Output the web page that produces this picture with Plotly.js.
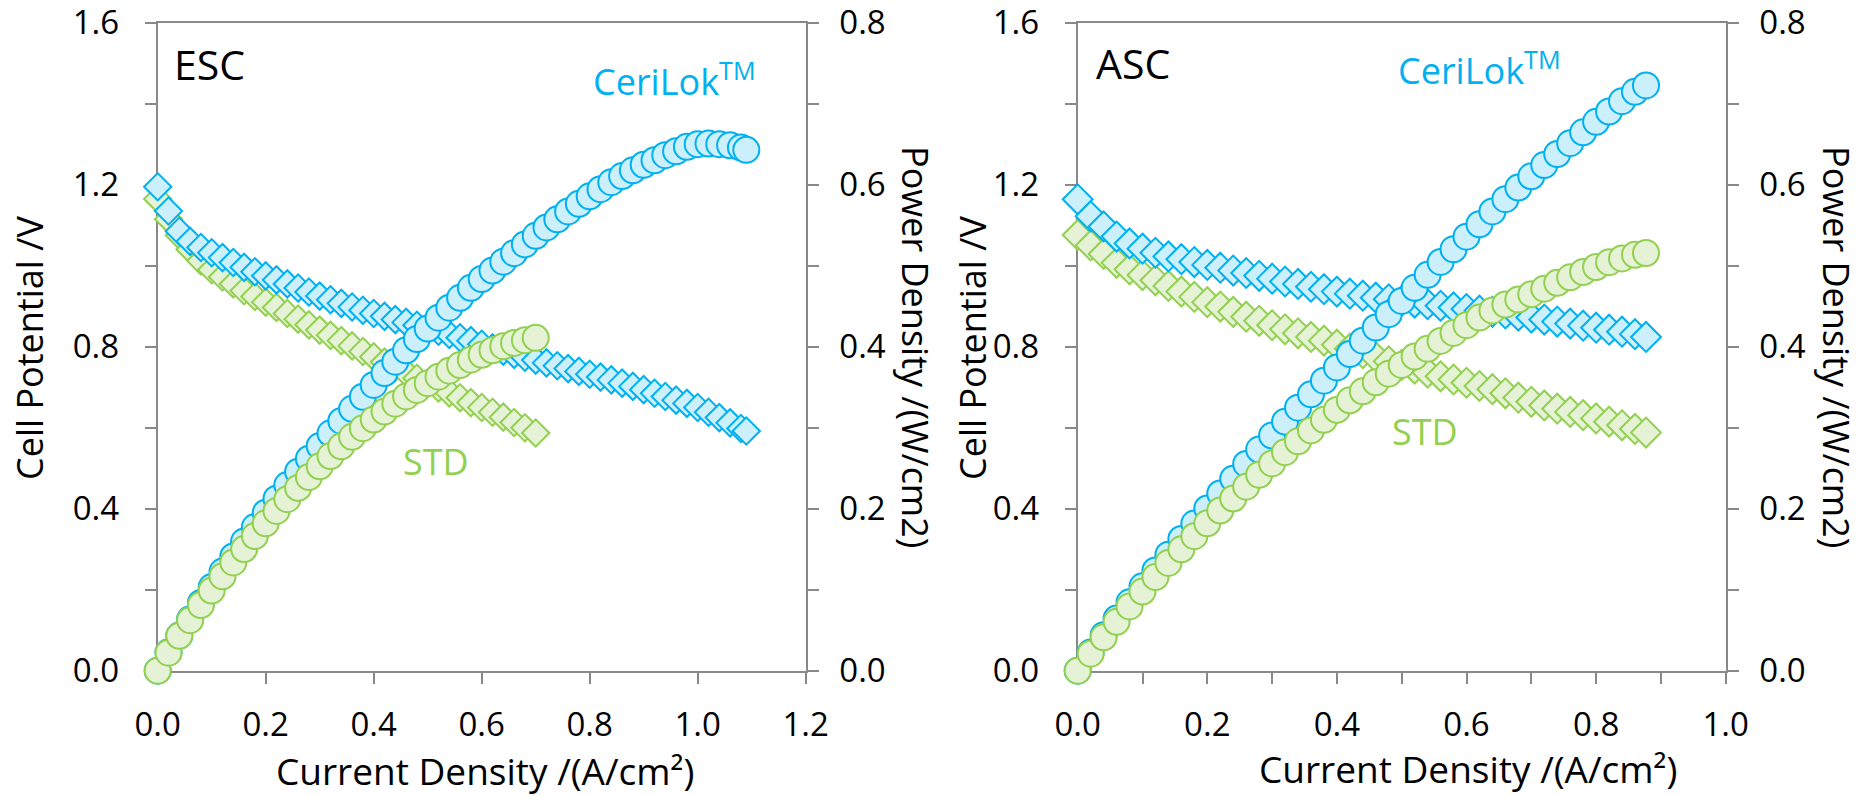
<!DOCTYPE html>
<html>
<head>
<meta charset="utf-8">
<script src="https://cdn.plot.ly/plotly-3.0.1.min.js"></script>
<style>html,body{margin:0;padding:0;background:#fff;}#chart{width:1861px;height:796px;}</style>
</head>
<body>
<div id="chart"></div>
<script>
// ---------- DATA ----------
// ESC panel
const escCeriX = [0,0.02,0.04,0.06,0.08,0.10,0.12,0.14,0.16,0.18,0.20,0.22,0.24,0.26,0.28,0.30,0.32,0.34,0.36,0.38,0.40,0.42,0.44,0.46,0.48,0.50,0.52,0.54,0.56,0.58,0.60,0.62,0.64,0.66,0.68,0.70,0.72,0.74,0.76,0.78,0.80,0.82,0.84,0.86,0.88,0.90,0.92,0.94,0.96,0.98,1.00,1.02,1.04,1.06,1.08,1.09];
const escCeriV = [1.195,1.135,1.085,1.060,1.045,1.032,1.020,1.008,0.996,0.985,0.975,0.965,0.955,0.945,0.935,0.925,0.916,0.907,0.898,0.890,0.882,0.875,0.867,0.860,0.853,0.845,0.838,0.830,0.822,0.815,0.806,0.797,0.789,0.781,0.774,0.767,0.760,0.753,0.746,0.739,0.732,0.725,0.718,0.710,0.702,0.694,0.685,0.677,0.668,0.660,0.650,0.638,0.625,0.612,0.598,0.592];
const escCeriP = [0,0.0227,0.0434,0.0636,0.0836,0.1032,0.1224,0.1411,0.1594,0.1773,0.195,0.2123,0.2292,0.2457,0.2618,0.2775,0.2931,0.3084,0.3233,0.3382,0.3528,0.3675,0.3815,0.3956,0.4094,0.4225,0.4358,0.4482,0.4603,0.4727,0.4836,0.4941,0.505,0.5155,0.5263,0.5369,0.5472,0.5572,0.567,0.5764,0.5856,0.5945,0.6031,0.6106,0.6178,0.6246,0.6302,0.6364,0.6413,0.6468,0.650,0.6508,0.650,0.6487,0.6458,0.6430];
const escStdX = [0,0.02,0.04,0.06,0.08,0.10,0.12,0.14,0.16,0.18,0.20,0.22,0.24,0.26,0.28,0.30,0.32,0.34,0.36,0.38,0.40,0.42,0.44,0.46,0.48,0.50,0.52,0.54,0.56,0.58,0.60,0.62,0.64,0.66,0.68,0.70];
const escStdV = [1.165,1.115,1.075,1.040,1.012,0.990,0.972,0.955,0.938,0.924,0.910,0.897,0.882,0.868,0.854,0.841,0.828,0.815,0.802,0.788,0.775,0.762,0.749,0.736,0.722,0.710,0.698,0.686,0.674,0.662,0.650,0.638,0.626,0.613,0.600,0.587];
const escStdP = [0,0.0223,0.043,0.0624,0.081,0.099,0.1166,0.1337,0.1501,0.1663,0.182,0.1973,0.2117,0.2257,0.2391,0.2523,0.265,0.2771,0.2887,0.2994,0.31,0.32,0.3296,0.3386,0.3466,0.355,0.363,0.3704,0.3774,0.384,0.39,0.3956,0.4006,0.4046,0.408,0.4109];
// ASC panel
const ascCeriX = [0,0.02,0.04,0.06,0.08,0.10,0.12,0.14,0.16,0.18,0.20,0.22,0.24,0.26,0.28,0.30,0.32,0.34,0.36,0.38,0.40,0.42,0.44,0.46,0.48,0.50,0.52,0.54,0.56,0.58,0.60,0.62,0.64,0.66,0.68,0.70,0.72,0.74,0.76,0.78,0.80,0.82,0.84,0.86,0.877];
const ascCeriV = [1.164,1.122,1.097,1.072,1.055,1.042,1.032,1.023,1.016,1.009,1.002,0.995,0.988,0.982,0.975,0.968,0.961,0.955,0.948,0.942,0.936,0.931,0.926,0.921,0.917,0.913,0.909,0.905,0.901,0.897,0.893,0.889,0.886,0.882,0.877,0.872,0.867,0.862,0.857,0.852,0.847,0.842,0.837,0.831,0.824];
const ascCeriP = [0,0.0224,0.0439,0.0643,0.0844,0.1042,0.1238,0.1432,0.1626,0.1816,0.2004,0.2189,0.2371,0.2553,0.273,0.2904,0.3075,0.3247,0.3413,0.358,0.3744,0.391,0.4074,0.4237,0.4402,0.4565,0.4727,0.4887,0.5046,0.5203,0.5358,0.5512,0.567,0.5821,0.5964,0.6104,0.6242,0.6379,0.6513,0.6646,0.6776,0.6904,0.7031,0.7147,0.7226];
const ascStdX = [0,0.02,0.04,0.06,0.08,0.10,0.12,0.14,0.16,0.18,0.20,0.22,0.24,0.26,0.28,0.30,0.32,0.34,0.36,0.38,0.40,0.42,0.44,0.46,0.48,0.50,0.52,0.54,0.56,0.58,0.60,0.62,0.64,0.66,0.68,0.70,0.72,0.74,0.76,0.78,0.80,0.82,0.84,0.86,0.877];
const ascStdV = [1.076,1.050,1.029,1.007,0.991,0.977,0.964,0.950,0.936,0.923,0.910,0.899,0.886,0.874,0.864,0.853,0.843,0.833,0.824,0.815,0.805,0.795,0.784,0.774,0.764,0.755,0.746,0.736,0.727,0.719,0.711,0.703,0.695,0.685,0.674,0.664,0.655,0.647,0.639,0.631,0.623,0.615,0.606,0.597,0.588];
const ascStdP = [0,0.021,0.0412,0.0604,0.0793,0.0977,0.1157,0.133,0.1498,0.1661,0.182,0.1978,0.2126,0.2272,0.2419,0.2559,0.2698,0.2832,0.2966,0.3097,0.322,0.3339,0.345,0.356,0.3667,0.3775,0.3879,0.3974,0.4071,0.417,0.4266,0.4359,0.4448,0.4521,0.4583,0.4648,0.4716,0.4788,0.4856,0.4922,0.4984,0.5043,0.509,0.5134,0.5157];

// Tick values and labels
const escXTicks = [0, 0.2, 0.4, 0.6, 0.8, 1.0, 1.2];
const escXLabels = ["0.0", "0.2", "0.4", "0.6", "0.8", "1.0", "1.2"];
const ascXTicks = [0, 0.2, 0.4, 0.6, 0.8, 1.0];
const ascXLabels = ["0.0", "0.2", "0.4", "0.6", "0.8", "1.0"];
const ascXMinor = [0.1, 0.3, 0.5, 0.7, 0.9];
const vTicks = [0, 0.4, 0.8, 1.2, 1.6];
const vLabels = ["0.0", "0.4", "0.8", "1.2", "1.6"];
const vMinor = [0.2, 0.6, 1.0, 1.4];
const pTicks = [0, 0.2, 0.4, 0.6, 0.8];
const pLabels = ["0.0", "0.2", "0.4", "0.6", "0.8"];
const pMinor = [0.1, 0.3, 0.5, 0.7];

// Text
const panelLabels = ["ESC", "ASC"];
const seriesNames = ["CeriLok<sup>TM</sup>", "STD"];
const xTitle = "Current Density /(A/cm²)";
const yTitle = "Cell Potential /V";
const y2Title = "Power Density /(W/cm2)";

// ---------- STYLE ----------
const W = 1861, H = 796;
const FONT = "'Open Sans', 'Noto Sans', sans-serif";
const AX = '#898989';
const BLUE = '#00B0F0', BLUE_F = '#CCEFFC';
const GREEN = '#92D050', GREEN_F = '#E6F2D6';
const px = v => v / W;
const py = v => 1 - v / H;

function diamonds(x, y, xa, ya, col, fill, size) {
  return {x, y, xaxis: xa, yaxis: ya, type: 'scatter', mode: 'markers', cliponaxis: false, hoverinfo: 'skip',
    marker: {symbol: 'diamond', size, color: fill, line: {color: col, width: 2}}};
}
function circles(x, y, xa, ya, col, fill) {
  return {x, y, xaxis: xa, yaxis: ya, type: 'scatter', mode: 'markers', cliponaxis: false, hoverinfo: 'skip',
    marker: {symbol: 'circle', size: 26, color: fill, line: {color: col, width: 2}}};
}

const data = [
  diamonds(escStdX, escStdV, 'x', 'y', GREEN, GREEN_F, 21),
  diamonds(escCeriX, escCeriV, 'x', 'y', BLUE, BLUE_F, 21),
  circles(escCeriX, escCeriP, 'x', 'y2', BLUE, BLUE_F),
  circles(escStdX, escStdP, 'x', 'y2', GREEN, GREEN_F),
  diamonds(ascStdX, ascStdV, 'x2', 'y3', GREEN, GREEN_F, 23),
  diamonds(ascCeriX, ascCeriV, 'x2', 'y3', BLUE, BLUE_F, 23),
  circles(ascCeriX, ascCeriP, 'x2', 'y4', BLUE, BLUE_F),
  circles(ascStdX, ascStdP, 'x2', 'y4', GREEN, GREEN_F)
];

const common = {
  showline: true, linecolor: AX, linewidth: 2, showgrid: false, zeroline: false,
  ticks: 'outside', ticklen: 11, tickwidth: 2, tickcolor: AX, tickmode: 'array',
  tickfont: {family: FONT, size: 33, color: '#000'}, ticklabeloverflow: 'allow',
  layer: 'below traces', fixedrange: true
};
function minor(vals) {
  return {tickmode: 'array', tickvals: vals, ticks: 'outside', ticklen: 11, tickwidth: 2, tickcolor: AX, showgrid: false};
}
const yDom = [py(670.7), py(22.7)];
const dom1 = [px(157.7), px(805.7)];
const dom2 = [px(1077.7), px(1725.7)];

const layout = {
  width: W, height: H, margin: {l: 0, r: 0, t: 0, b: 0},
  paper_bgcolor: '#fff', plot_bgcolor: 'rgba(0,0,0,0)', showlegend: false,
  xaxis: Object.assign({}, common, {domain: dom1, anchor: 'y', range: [0, 1.2], tickvals: escXTicks, ticktext: escXLabels, mirror: true, ticklabelstandoff: 13}),
  yaxis: Object.assign({}, common, {domain: yDom, anchor: 'x', range: [0, 1.6], tickvals: vTicks, ticktext: vLabels, ticklabelstandoff: 19, minor: minor(vMinor)}),
  yaxis2: Object.assign({}, common, {overlaying: 'y', anchor: 'x', side: 'right', range: [0, 0.8], tickvals: pTicks, ticktext: pLabels, ticklabelstandoff: 14, minor: minor(pMinor)}),
  xaxis2: Object.assign({}, common, {domain: dom2, anchor: 'y3', range: [0, 1.0], tickvals: ascXTicks, ticktext: ascXLabels, mirror: true, ticklabelstandoff: 13, minor: minor(ascXMinor)}),
  yaxis3: Object.assign({}, common, {domain: yDom, anchor: 'x2', range: [0, 1.6], tickvals: vTicks, ticktext: vLabels, ticklabelstandoff: 19, minor: minor(vMinor)}),
  yaxis4: Object.assign({}, common, {overlaying: 'y3', anchor: 'x2', side: 'right', range: [0, 0.8], tickvals: pTicks, ticktext: pLabels, ticklabelstandoff: 14, minor: minor(pMinor)}),
  annotations: []
};

function ann(text, x, y, opts) {
  return Object.assign({text, x: px(x), y: py(y), xref: 'paper', yref: 'paper', showarrow: false, borderpad: 0,
    xanchor: 'center', yanchor: 'middle', font: {family: FONT, size: 36, color: '#000'}}, opts || {});
}
layout.annotations.push(
  ann(yTitle, 29, 348, {textangle: -90}),
  ann(y2Title, 916, 347, {textangle: 90}),
  ann(yTitle, 972, 348, {textangle: -90}),
  ann(y2Title, 1837, 347, {textangle: 90}),
  ann(xTitle, 485, 770, {font: {family: FONT, size: 37, color: '#000'}}),
  ann(xTitle, 1468, 768, {font: {family: FONT, size: 37, color: '#000'}}),
  ann(panelLabels[0], 173, 64, {xanchor: 'left', font: {family: FONT, size: 41, color: '#000'}}),
  ann(panelLabels[1], 1095, 63, {xanchor: 'left', font: {family: FONT, size: 41, color: '#000'}}),
  ann(seriesNames[0], 592, 107, {xanchor: 'left', yanchor: 'bottom', font: {family: FONT, size: 36, color: BLUE}}),
  ann(seriesNames[0], 1397, 96, {xanchor: 'left', yanchor: 'bottom', font: {family: FONT, size: 36, color: BLUE}}),
  ann(seriesNames[1], 436, 461, {font: {family: FONT, size: 36, color: GREEN}}),
  ann(seriesNames[1], 1425, 431, {font: {family: FONT, size: 36, color: GREEN}})
);

Plotly.newPlot('chart', data, layout, {staticPlot: true, displayModeBar: false});
</script>
</body>
</html>
